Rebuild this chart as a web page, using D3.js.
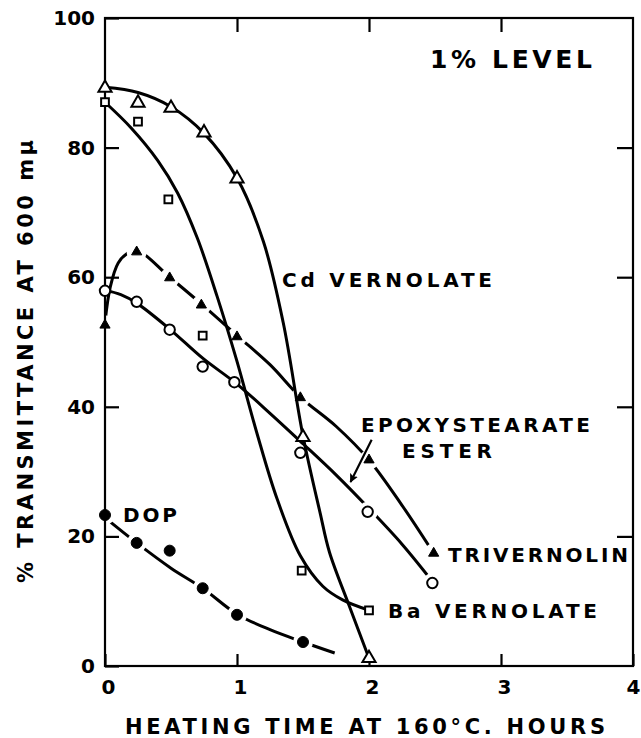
<!DOCTYPE html>
<html><head><meta charset="utf-8">
<script src="https://cdn.jsdelivr.net/npm/d3@7"></script>
<style>
body{margin:0;background:#fff;}
svg{display:block;}
text{font-family:"DejaVu Sans",sans-serif;font-weight:bold;fill:#000;}
</style>
</head><body>
<svg id="chart" width="641" height="738"></svg>
<script>
// ---- axis ticks ----
const xTicks = [0, 1, 2, 3, 4];
const yTicks = [0, 20, 40, 60, 80, 100];

// ---- measured points (hours, % transmittance) ----
const cdTime = [0, 0.25, 0.5, 0.75, 1.0, 1.5, 2.0];
const cdVal  = [89.2, 86.9, 86.1, 82.3, 75.2, 35.3, 1.2];
const baTime = [0, 0.25, 0.48, 0.74, 1.49, 2.0];
const baVal  = [87.0, 84.0, 72.0, 51.0, 14.7, 8.6];
const triTime = [0, 0.24, 0.49, 0.73, 1.0, 1.48, 2.0, 2.49];
const triVal  = [52.6, 63.9, 59.9, 55.7, 50.8, 41.4, 31.8, 17.4];
const epoTime = [0, 0.24, 0.49, 0.74, 0.98, 1.48, 1.99, 2.48];
const epoVal  = [57.9, 56.2, 51.9, 46.2, 43.8, 32.9, 23.8, 12.8];
const dopTime = [0, 0.24, 0.49, 0.74, 1.0, 1.5];
const dopVal  = [23.3, 19.0, 17.8, 12.0, 7.9, 3.7];

// ---- hand-drawn smooth curves ----
const cdCurveT = [0, 0.25, 0.5, 0.75, 1.0, 1.2, 1.35, 1.5, 1.63, 1.7, 1.85, 2.0];
const cdCurveV = [89.3, 88.5, 86.3, 82.2, 75.3, 65.5, 53, 35.5, 23.6, 17.6, 9.3, 1.2];
const baCurveT = [0, 0.2, 0.4, 0.55, 0.7, 0.85, 1.0, 1.15, 1.3, 1.48, 1.65, 1.8, 2.0];
const baCurveV = [87, 83, 78, 73, 66, 57, 47, 36, 26, 17, 12.3, 10.2, 8.6];
const triCurveT = [0, 0.04, 0.1, 0.17, 0.24, 0.49, 0.74, 1.0, 1.25, 1.48, 1.75, 2.0, 2.25, 2.49];
const triCurveV = [53, 58.5, 62.2, 63.7, 64.2, 60, 55.7, 51, 46.5, 41.5, 37, 31.8, 24.8, 17.4];
const epoCurveT = [0, 0.12, 0.24, 0.49, 0.74, 1.0, 1.25, 1.5, 1.75, 2.0, 2.25, 2.49];
const epoCurveV = [58, 57.3, 56, 52, 47.5, 43.5, 39, 34.3, 29.5, 24.3, 18.8, 12.8];
const dopCurveT = [0, 0.24, 0.5, 0.74, 1.0, 1.25, 1.5, 1.74];
const dopCurveV = [22.9, 19.0, 15.1, 12.0, 8.0, 5.6, 3.7, 2.0];

// ---- text ----
const labelText = ["1% LEVEL", "Cd VERNOLATE", "EPOXYSTEARATE", "ESTER", "TRIVERNOLIN", "Ba VERNOLATE", "DOP"];
const xTitle = "HEATING TIME AT 160°C. HOURS";
const yTitle = "% TRANSMITTANCE AT 600 mμ";

const W = 641, H = 738;
const M = {left: 105, right: 633, top: 18, bottom: 666};
const svg = d3.select("#chart");
const x = d3.scaleLinear().domain([0, 4]).range([M.left, M.right]);
const y = d3.scaleLinear().domain([0, 100]).range([M.bottom, M.top]);

const zip = (t, v) => t.map((d, i) => [d, v[i]]);
const line = d3.line().x(d => x(d[0])).y(d => y(d[1])).curve(d3.curveCatmullRom.alpha(0.5));
const defs = svg.append("defs");

// frame
svg.append("rect").attr("x", M.left).attr("y", M.top)
  .attr("width", M.right - M.left).attr("height", M.bottom - M.top)
  .attr("fill", "none").attr("stroke", "#000").attr("stroke-width", 2.2);

// axes
const fontSize = 20;
const gx = svg.append("g").attr("transform", `translate(0,${M.bottom})`)
  .call(d3.axisBottom(x).tickValues(xTicks).tickSize(-12).tickPadding(14).tickFormat(d3.format("d")));
const gy = svg.append("g").attr("transform", `translate(${M.left},0)`)
  .call(d3.axisLeft(y).tickValues(yTicks).tickSize(-14).tickPadding(10).tickFormat(d3.format("d")));
const gt = svg.append("g").attr("transform", `translate(0,${M.top})`)
  .call(d3.axisTop(x).tickValues(xTicks.slice(1, -1)).tickSize(-14).tickFormat(""));
const gr = svg.append("g").attr("transform", `translate(${M.right},0)`)
  .call(d3.axisRight(y).tickValues(yTicks.slice(1, -1)).tickSize(-16).tickFormat(""));
[gx, gy, gt, gr].forEach(g => {
  g.select(".domain").remove();
  g.selectAll("line").attr("stroke", "#000").attr("stroke-width", 2.2);
  g.selectAll("text").attr("font-size", fontSize).attr("font-family", "DejaVu Sans").attr("font-weight", "bold").attr("fill", "#000");
});
gx.selectAll("text").attr("dx", 3);
// last x label sits at the right edge: keep it inside the picture
gx.selectAll(".tick").filter(d => d === xTicks[xTicks.length - 1]).select("text")
  .attr("text-anchor", "end").attr("dx", W - M.right - 1);

// masks to open gaps in lines at markers
function makeMask(id, pts, r) {
  const m = defs.append("mask").attr("id", id).attr("maskUnits", "userSpaceOnUse")
    .attr("x", 0).attr("y", 0).attr("width", W).attr("height", H);
  m.append("rect").attr("width", W).attr("height", H).attr("fill", "#fff");
  m.selectAll("circle").data(pts).join("circle")
    .attr("cx", d => x(d[0])).attr("cy", d => y(d[1])).attr("r", r).attr("fill", "#000");
}
makeMask("mTri", zip(triTime, triVal), 10);
makeMask("mDop", zip(dopTime, dopVal), 10);
makeMask("mEpo", zip(epoTime, epoVal).filter(d => d[0] >= 1.9), 10);

const curves = [
  {pts: zip(cdCurveT, cdCurveV)},
  {pts: zip(baCurveT, baCurveV)},
  {pts: zip(triCurveT, triCurveV), mask: "mTri"},
  {pts: zip(epoCurveT, epoCurveV), mask: "mEpo"},
  {pts: zip(dopCurveT, dopCurveV), mask: "mDop"}
];
curves.forEach(c => {
  const p = svg.append("path").attr("d", line(c.pts)).attr("fill", "none")
    .attr("stroke", "#000").attr("stroke-width", 3).attr("stroke-linecap", "butt");
  if (c.mask) p.attr("mask", `url(#${c.mask})`);
});

// markers
function markers(t, v, type, size, filled) {
  svg.append("g").selectAll("path").data(zip(t, v)).join("path")
    .attr("transform", d => `translate(${x(d[0])},${y(d[1])})`)
    .attr("d", d3.symbol().type(type).size(size)())
    .attr("fill", filled ? "#000" : "#fff")
    .attr("stroke", "#000").attr("stroke-width", filled ? 1 : 2);
}
markers(cdTime, cdVal, d3.symbolTriangle, 75, false);
markers(baTime, baVal, d3.symbolSquare, 60, false);
markers(epoTime, epoVal, d3.symbolCircle, 85, false);
markers(triTime, triVal, d3.symbolTriangle, 45, true);
markers(dopTime, dopVal, d3.symbolCircle, 95, true);

// labels (position in data units, width in px, font size)
const labelPos = [
  [2.462, 92.3, 162, 25], [1.341, 58.5, 210, 20], [1.939, 36.1, 229, 20], [2.25, 32.1, 90, 20],
  [2.598, 16.05, 180, 20], [2.144, 7.41, 209, 20], [0.136, 22.2, 54, 20]
];
svg.append("g").selectAll("text").data(labelText).join("text")
  .attr("x", (d, i) => x(labelPos[i][0])).attr("y", (d, i) => y(labelPos[i][1]))
  .attr("font-size", (d, i) => labelPos[i][3])
  .attr("textLength", (d, i) => labelPos[i][2]).attr("lengthAdjust", "spacing")
  .text(d => d);

// arrow for epoxystearate
defs.append("marker").attr("id", "ah").attr("viewBox", "0 0 10 10").attr("refX", 9).attr("refY", 5)
  .attr("markerWidth", 4).attr("markerHeight", 4).attr("orient", "auto")
  .append("path").attr("d", "M0,0 L10,5 L0,10 L2,5 Z").attr("fill", "#000");
svg.append("line").attr("x1", x(2.02)).attr("y1", y(34.9)).attr("x2", x(1.86)).attr("y2", y(28.4))
  .attr("stroke", "#000").attr("stroke-width", 2.2).attr("marker-end", "url(#ah)");

// axis titles
svg.append("text").attr("x", 125).attr("y", 734).attr("font-size", 21)
  .attr("textLength", 480).attr("lengthAdjust", "spacing").text(xTitle);
svg.append("text").attr("transform", "translate(33,583) rotate(-90)").attr("font-size", 21)
  .attr("textLength", 443).attr("lengthAdjust", "spacing").text(yTitle);
</script>
</body></html>
